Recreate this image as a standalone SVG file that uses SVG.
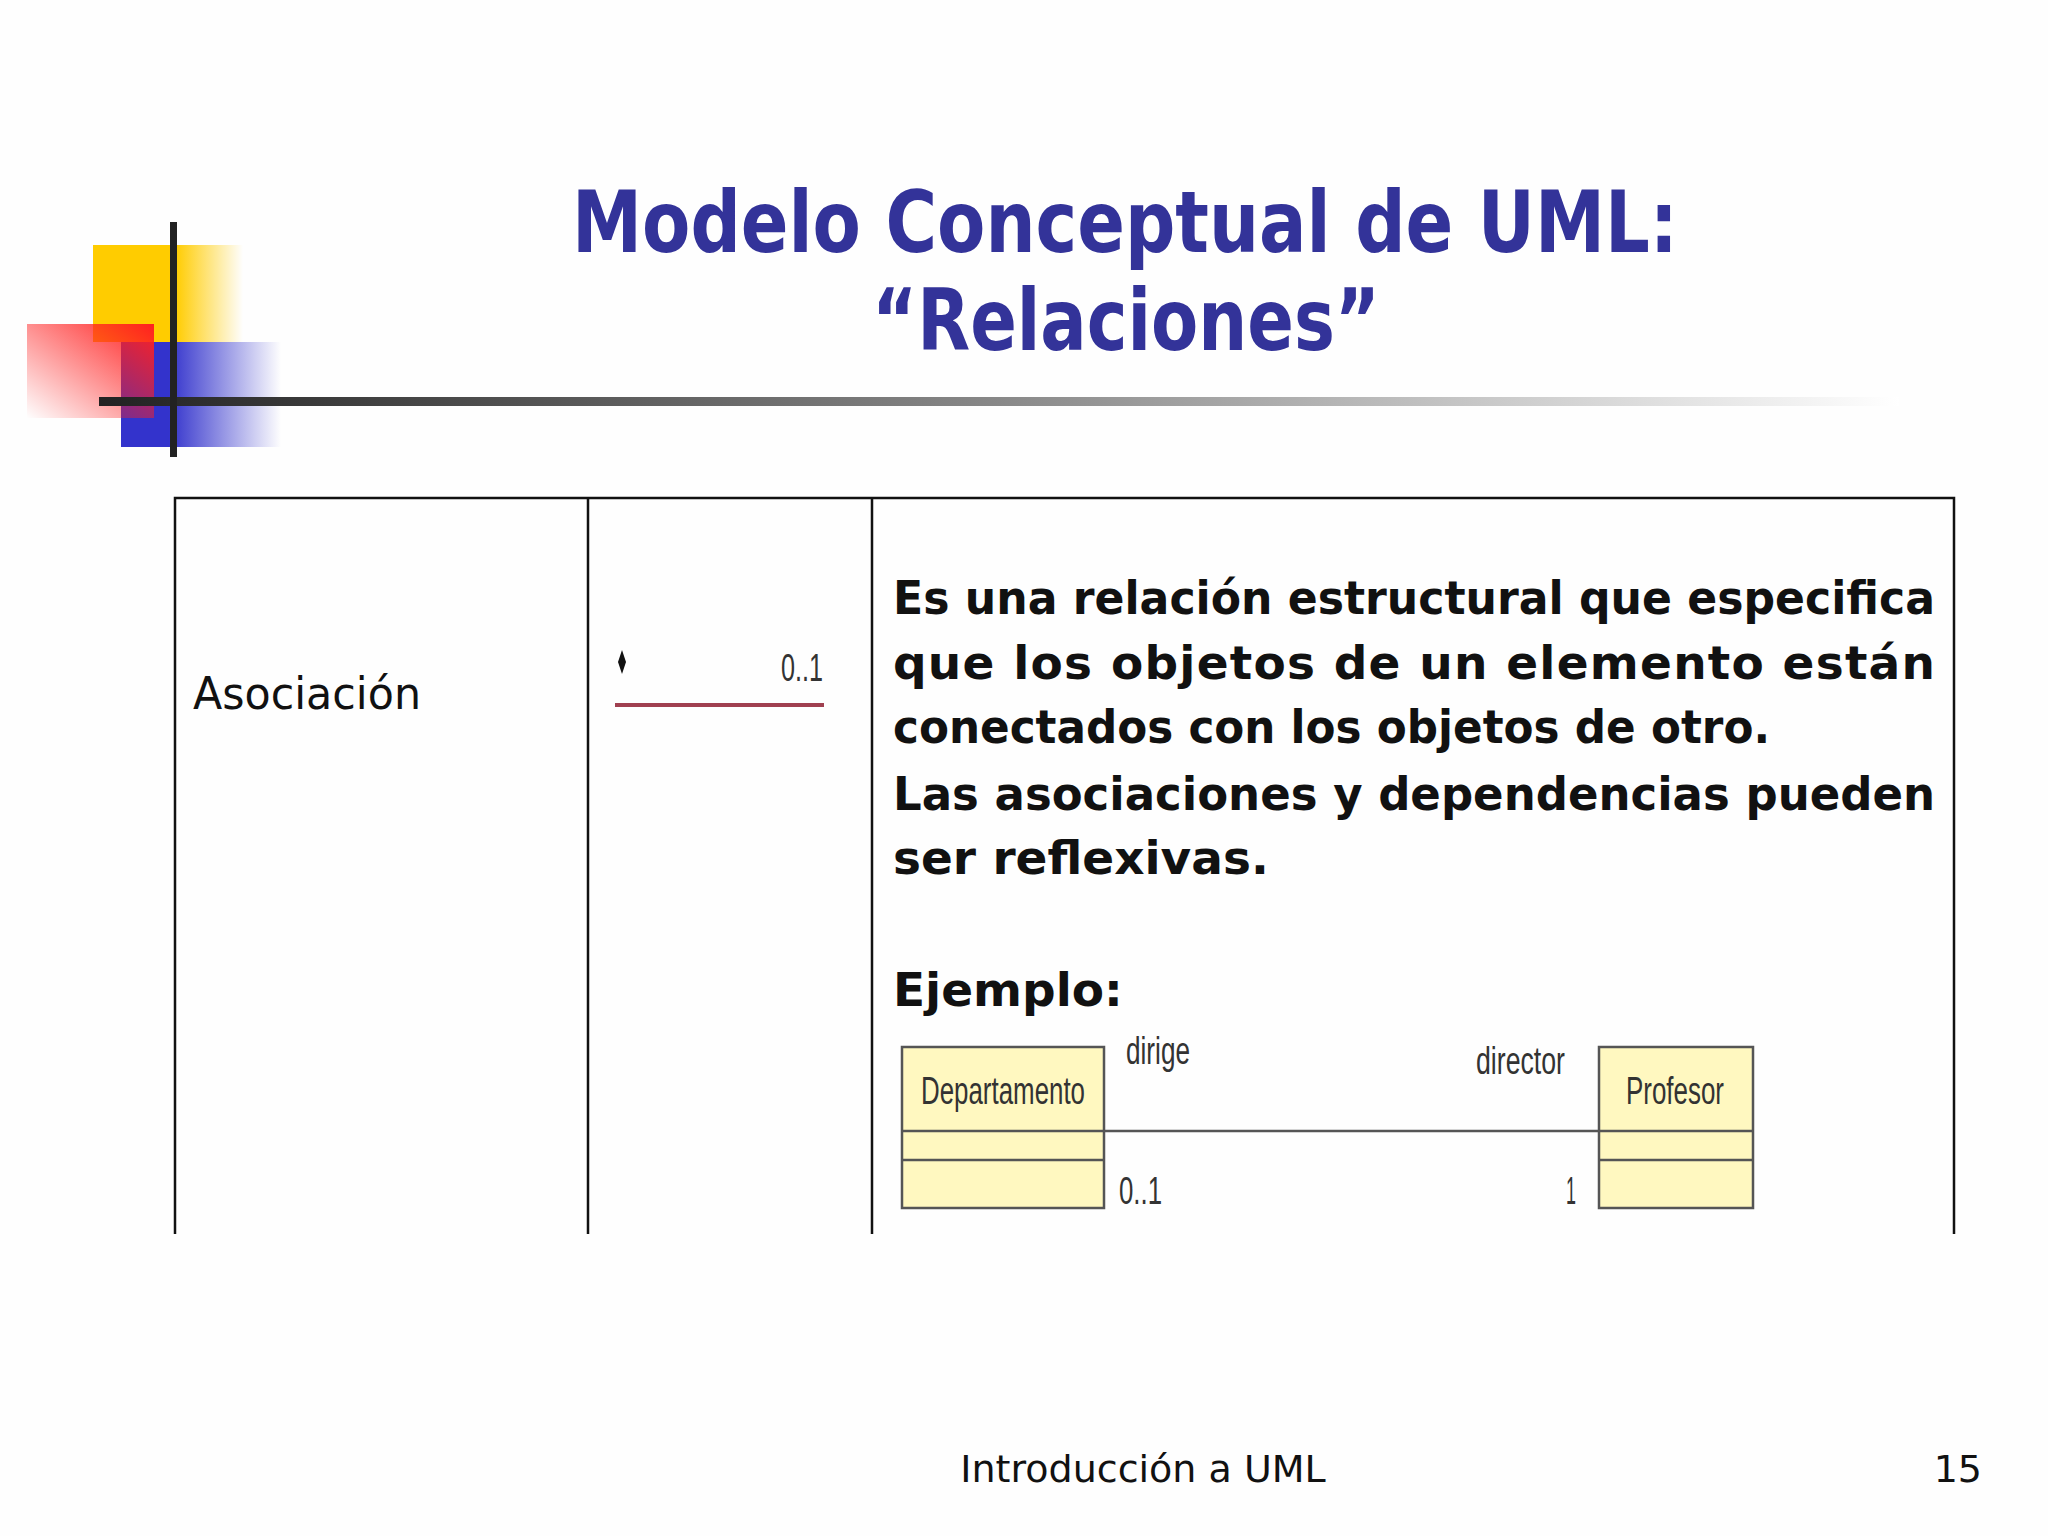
<svg xmlns="http://www.w3.org/2000/svg" width="2048" height="1536" viewBox="0 0 2048 1536">
<defs>
<linearGradient id="gy" x1="0" x2="1"><stop offset="0.55" stop-color="#ffcc00"/><stop offset="1" stop-color="#ffcc00" stop-opacity="0"/></linearGradient>
<linearGradient id="gb" x1="0" x2="1"><stop offset="0.3" stop-color="#3333cc"/><stop offset="1" stop-color="#3333cc" stop-opacity="0"/></linearGradient>
<linearGradient id="gr" x1="1" y1="0" x2="0" y2="1"><stop offset="0" stop-color="#ff2020"/><stop offset="1" stop-color="#ff2020" stop-opacity="0"/></linearGradient>
<linearGradient id="gl" x1="0" x2="1"><stop offset="0" stop-color="#222"/><stop offset="0.5" stop-color="#888"/><stop offset="1" stop-color="#fff"/></linearGradient>
<style>
.t{font-family:"DejaVu Sans",Verdana,sans-serif;font-weight:bold;fill:#333399;font-size:86px}
.d{font-family:"DejaVu Sans",Verdana,sans-serif;font-weight:bold;font-size:47px;fill:#111}
.n{font-family:"Liberation Sans","DejaVu Sans",sans-serif;font-size:38px;fill:#333}
.cell{stroke:#111;stroke-width:2.5;fill:none}
.box{fill:#fff8c0;stroke:#555;stroke-width:2.5}
</style>
</defs>
<rect width="2048" height="1536" fill="#fefefe"/>
<g id="logo">
<rect x="93" y="245" width="150" height="97" fill="url(#gy)"/>
<rect x="121" y="342" width="160" height="105" fill="url(#gb)"/>
<rect x="27" y="324" width="127" height="94" fill="url(#gr)"/>
<rect x="99" y="397" width="1800" height="9" fill="url(#gl)"/>
<rect x="170" y="222" width="7" height="235" fill="#222"/>
</g>
<g id="title">
<text class="t" x="572" y="252" textLength="1106" lengthAdjust="spacingAndGlyphs">Modelo Conceptual de UML:</text>
<text class="t" x="872" y="350" textLength="508" lengthAdjust="spacingAndGlyphs">“Relaciones”</text>
</g>
<g id="table">
<path class="cell" d="M175 1234V498H1954V1234M588 498V1234M872 498V1234"/>
<text x="193" y="709" font-family="'DejaVu Sans',sans-serif" font-size="44" fill="#111" textLength="228" lengthAdjust="spacingAndGlyphs">Asociación</text>
<path d="M622 650l4 12-4 12-4-12z" fill="#111"/>
<text class="n" x="781" y="681" font-size="48" textLength="42" lengthAdjust="spacingAndGlyphs">0..1</text>
<line x1="615" y1="705" x2="824" y2="705" stroke="#a04050" stroke-width="4"/>
<g class="d">
<text x="893" y="614" textLength="1042" lengthAdjust="spacingAndGlyphs">Es una relación estructural que especifica</text>
<text x="893" y="679" textLength="1042" lengthAdjust="spacing">que  los  objetos  de  un  elemento  están</text>
<text x="893" y="743" textLength="877" lengthAdjust="spacingAndGlyphs">conectados con los objetos de otro.</text>
<text x="893" y="810" textLength="1042" lengthAdjust="spacingAndGlyphs">Las asociaciones y dependencias pueden</text>
<text x="893" y="874">ser reflexivas.</text>
<text x="893" y="1006">Ejemplo:</text>
</g>
</g>
<g id="departamento">
<rect class="box" x="902" y="1047" width="202" height="161"/>
<path d="M902 1131H1104M902 1160H1104" stroke="#555" stroke-width="2.5"/>
<text class="n" x="921" y="1104" textLength="164" lengthAdjust="spacingAndGlyphs">Departamento</text>
</g>
<g id="profesor">
<rect class="box" x="1599" y="1047" width="154" height="161"/>
<path d="M1599 1131H1753M1599 1160H1753" stroke="#555" stroke-width="2.5"/>
<text class="n" x="1626" y="1104" textLength="98" lengthAdjust="spacingAndGlyphs">Profesor</text>
</g>
<g id="connectors">
<line x1="1104" y1="1131" x2="1599" y2="1131" stroke="#555" stroke-width="2.5"/>
<text class="n" x="1126" y="1064" textLength="64" lengthAdjust="spacingAndGlyphs">dirige</text>
<text class="n" x="1476" y="1074" textLength="89" lengthAdjust="spacingAndGlyphs">director</text>
<text class="n" x="1119" y="1204" textLength="43" lengthAdjust="spacingAndGlyphs">0..1</text>
<text class="n" x="1566" y="1204" textLength="10" lengthAdjust="spacingAndGlyphs">1</text>
</g>
<g id="footer" font-family="'DejaVu Sans',sans-serif" font-size="38" fill="#111">
<text x="1143" y="1482" text-anchor="middle">Introducción a UML</text>
<text x="1982" y="1482" text-anchor="end">15</text>
</g>
</svg>
